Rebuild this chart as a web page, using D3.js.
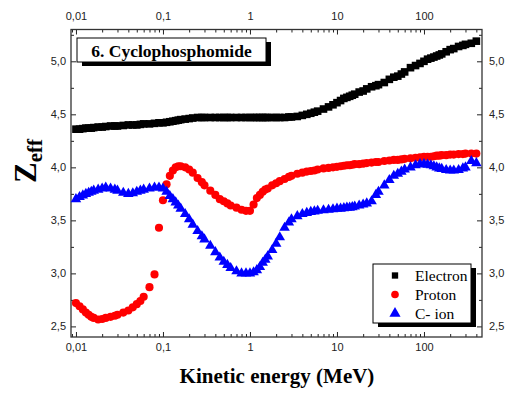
<!DOCTYPE html>
<html>
<head>
<meta charset="utf-8">
<script src="https://cdn.jsdelivr.net/npm/d3@7"></script>
<style>
  body { margin: 0; background: #fff; }
  svg { display: block; }
  .tick text { font-family: "Liberation Sans", Arial, sans-serif; font-size: 11px; fill: #222; }
  .serif { font-family: "Liberation Serif", "Times New Roman", serif; }
</style>
</head>
<body>
<div id="chart"></div>
<script>
// Energies (MeV) shared by all three series
const energies = [
  0.01, 0.011, 0.012, 0.013, 0.014, 0.015, 0.016, 0.018, 0.02, 0.022, 0.025, 0.028, 0.03, 0.035, 0.04, 0.045, 0.05, 0.055, 0.06, 0.07, 0.08, 0.09,
  0.1, 0.11, 0.12, 0.13, 0.14, 0.15, 0.16, 0.18, 0.2, 0.22, 0.25, 0.28, 0.3, 0.35, 0.4, 0.45, 0.5, 0.55, 0.6, 0.7, 0.8, 0.9,
  1, 1.1, 1.2, 1.3, 1.4, 1.5, 1.6, 1.8, 2, 2.2, 2.5, 2.8, 3, 3.5, 4, 4.5, 5, 5.5, 6, 7, 8, 9,
  10, 11, 12, 13, 14, 15, 16, 18, 20, 22, 25, 28, 30, 35, 40, 45, 50, 55, 60, 70, 80, 90,
  100, 110, 120, 130, 140, 150, 160, 180, 200, 220, 250, 280, 300, 350, 400
];

const electronZ = [
  4.36, 4.36, 4.365, 4.37, 4.37, 4.37, 4.375, 4.38, 4.38, 4.385, 4.39, 4.39, 4.39, 4.395, 4.40, 4.40, 4.40, 4.405, 4.41, 4.41, 4.415, 4.42,
  4.42, 4.425, 4.43, 4.435, 4.44, 4.445, 4.45, 4.455, 4.46, 4.465, 4.47, 4.47, 4.47, 4.47, 4.47, 4.47, 4.47, 4.47, 4.47, 4.47, 4.47, 4.47,
  4.47, 4.47, 4.47, 4.47, 4.47, 4.47, 4.47, 4.47, 4.47, 4.47, 4.47, 4.475, 4.475, 4.48, 4.49, 4.50, 4.51, 4.52, 4.53, 4.55, 4.57, 4.59,
  4.61, 4.63, 4.65, 4.66, 4.67, 4.68, 4.69, 4.71, 4.72, 4.74, 4.76, 4.77, 4.78, 4.80, 4.83, 4.85, 4.86, 4.88, 4.90, 4.94, 4.96, 4.98,
  5.00, 5.02, 5.03, 5.04, 5.05, 5.06, 5.07, 5.09, 5.11, 5.12, 5.14, 5.15, 5.16, 5.17, 5.19
];

const protonZ = [
  2.72, 2.69, 2.66, 2.63, 2.61, 2.59, 2.58, 2.565, 2.57, 2.58, 2.59, 2.60, 2.61, 2.63, 2.65, 2.68, 2.71, 2.74, 2.78, 2.87, 2.99, 3.43,
  3.69, 3.84, 3.92, 3.97, 4.0, 4.01, 4.01, 4.0, 3.98, 3.95, 3.90, 3.86, 3.83, 3.78, 3.74, 3.70, 3.68, 3.66, 3.64, 3.62, 3.60, 3.59,
  3.59, 3.65, 3.71, 3.74, 3.77, 3.79, 3.80, 3.83, 3.85, 3.87, 3.89, 3.91, 3.92, 3.94, 3.95, 3.96, 3.965, 3.97, 3.98, 3.99, 3.995, 4.0,
  4.005, 4.01, 4.015, 4.02, 4.02, 4.025, 4.03, 4.03, 4.035, 4.04, 4.045, 4.05, 4.05, 4.06, 4.065, 4.07, 4.07, 4.075, 4.08, 4.085, 4.09, 4.095,
  4.10, 4.10, 4.10, 4.105, 4.11, 4.11, 4.115, 4.115, 4.12, 4.12, 4.125, 4.125, 4.13, 4.13, 4.13
];

const cIonZ = [
  3.70, 3.72, 3.735, 3.75, 3.76, 3.77, 3.78, 3.79, 3.80, 3.81, 3.80, 3.79, 3.78, 3.76, 3.75, 3.755, 3.77, 3.78, 3.79, 3.80, 3.81, 3.81,
  3.80, 3.77, 3.73, 3.70, 3.67, 3.64, 3.61, 3.56, 3.51, 3.46, 3.40, 3.35, 3.32, 3.26, 3.20, 3.15, 3.11, 3.08, 3.05, 3.02, 3.0, 3.0,
  3.0, 3.01, 3.03, 3.06, 3.10, 3.13, 3.16, 3.22, 3.28, 3.34, 3.43, 3.48, 3.51, 3.54, 3.56, 3.57, 3.58, 3.585, 3.59, 3.595, 3.60, 3.605,
  3.61, 3.61, 3.615, 3.62, 3.62, 3.625, 3.63, 3.64, 3.65, 3.66, 3.68, 3.74, 3.77, 3.83, 3.88, 3.92, 3.94, 3.96, 3.98, 4.0, 4.02, 4.03,
  4.03, 4.025, 4.02, 4.01, 4.0, 3.99, 3.985, 3.975, 3.97, 3.97, 3.975, 3.99, 4.0, 4.06, 4.04
];

const seriesNames = ["Electron", "Proton", "C- ion"];
const xTicks = [0.01, 0.1, 1, 10, 100];
const yTicks = [2.5, 3.0, 3.5, 4.0, 4.5, 5.0];
const yMinorTicks = [2.75, 3.25, 3.75, 4.25, 4.75, 5.25];

(function() {
    const width = 513;
    const height = 394;
    const left = 71, right = 482, top = 29.5, bottom = 337;

    // Virgule décimale
    const locale = d3.formatLocale({ decimal: ",", thousands: ".", grouping: [3], currency: ["", ""] });
    const fmtX = locale.format("~g");
    const fmtY = locale.format(".1f");

    const x = d3.scaleLog().domain([0.00877, 464.5]).range([left, right]);
    const y = d3.scaleLinear().domain([2.4, 5.3]).range([bottom, top]);

    const svg = d3.select("#chart").append("svg")
        .attr("width", width)
        .attr("height", height);

    // Axes (ticks vers l'intérieur)
    const minorX = x.ticks().filter(v => !xTicks.includes(v));

    function addAxis(axisFn, scale, pos, values, size, fmt, pad) {
        const g = svg.append("g")
            .attr("transform", axisFn === d3.axisBottom || axisFn === d3.axisTop
                ? `translate(0,${pos})` : `translate(${pos},0)`)
            .call(axisFn(scale).tickValues(values).tickSize(-size)
                .tickFormat(fmt || "").tickPadding(pad || 0));
        g.select(".domain").remove();
        g.selectAll(".tick line").attr("stroke", "#222");
        return g;
    }

    addAxis(d3.axisBottom, x, bottom, xTicks, 5, fmtX, 6);
    addAxis(d3.axisBottom, x, bottom, minorX, 3);
    addAxis(d3.axisTop, x, top, xTicks, 5, fmtX, 10);
    addAxis(d3.axisTop, x, top, minorX, 3);
    addAxis(d3.axisLeft, y, left, yTicks, 5, fmtY, 5);
    addAxis(d3.axisLeft, y, left, yMinorTicks, 3);
    addAxis(d3.axisRight, y, right, yTicks, 5, fmtY, 7);
    addAxis(d3.axisRight, y, right, yMinorTicks, 3);

    // Cadre
    svg.append("rect")
        .attr("x", left).attr("y", top)
        .attr("width", right - left).attr("height", bottom - top)
        .attr("fill", "none").attr("stroke", "#333").attr("stroke-width", 1.3);

    // Séries
    const series = [
        { name: seriesNames[0], values: electronZ, color: "#000000", symbol: d3.symbolSquare, size: 58 },
        { name: seriesNames[1], values: protonZ, color: "#ff0000", symbol: d3.symbolCircle, size: 52 },
        { name: seriesNames[2], values: cIonZ, color: "#0000ff", symbol: d3.symbolTriangle, size: 48 }
    ];

    series.forEach(s => {
        const pts = energies.map((e, i) => ({ e: e, z: s.values[i] }));
        svg.append("g").selectAll("path")
            .data(pts)
            .join("path")
            .attr("transform", d => `translate(${x(d.e)},${y(d.z)})`)
            .attr("d", d3.symbol().type(s.symbol).size(s.size))
            .attr("fill", s.color);
    });

    // Titre dans un cadre avec ombre
    svg.append("rect").attr("x", 82).attr("y", 42).attr("width", 189).attr("height", 24).attr("fill", "#000");
    svg.append("rect").attr("x", 77).attr("y", 38).attr("width", 189).attr("height", 24)
        .attr("fill", "#fff").attr("stroke", "#000").attr("stroke-width", 1);
    svg.append("text").attr("class", "serif")
        .attr("x", 171.5).attr("y", 56.5)
        .attr("text-anchor", "middle")
        .attr("font-size", 17.5).attr("font-weight", "bold")
        .text("6. Cyclophosphomide");

    // Légende
    svg.append("rect").attr("x", 378).attr("y", 268).attr("width", 98).attr("height", 59).attr("fill", "#000");
    svg.append("rect").attr("x", 373).attr("y", 264).attr("width", 98).attr("height", 59)
        .attr("fill", "#fff").attr("stroke", "#000").attr("stroke-width", 1);

    const legendSizes = [40, 46, 54];
    series.forEach((s, i) => {
        const ly = 275.5 + i * 19;
        svg.append("path")
            .attr("transform", `translate(395,${ly})`)
            .attr("d", d3.symbol().type(s.symbol).size(legendSizes[i]))
            .attr("fill", s.color);
        svg.append("text").attr("class", "serif")
            .attr("x", 415).attr("y", ly + 5)
            .attr("font-size", 15.5)
            .text(s.name);
    });

    // Titres des axes
    svg.append("text").attr("class", "serif")
        .attr("x", 277).attr("y", 383)
        .attr("text-anchor", "middle")
        .attr("font-size", 21).attr("font-weight", "bold")
        .text("Kinetic energy (MeV)");

    const yl = svg.append("text").attr("class", "serif")
        .attr("transform", "translate(36,161) rotate(-90)")
        .attr("text-anchor", "middle")
        .attr("font-weight", "bold");
    yl.append("tspan").attr("font-size", 31).text("Z");
    yl.append("tspan").attr("font-size", 21).attr("dy", 6).text("eff");
})();
</script>
</body>
</html>
